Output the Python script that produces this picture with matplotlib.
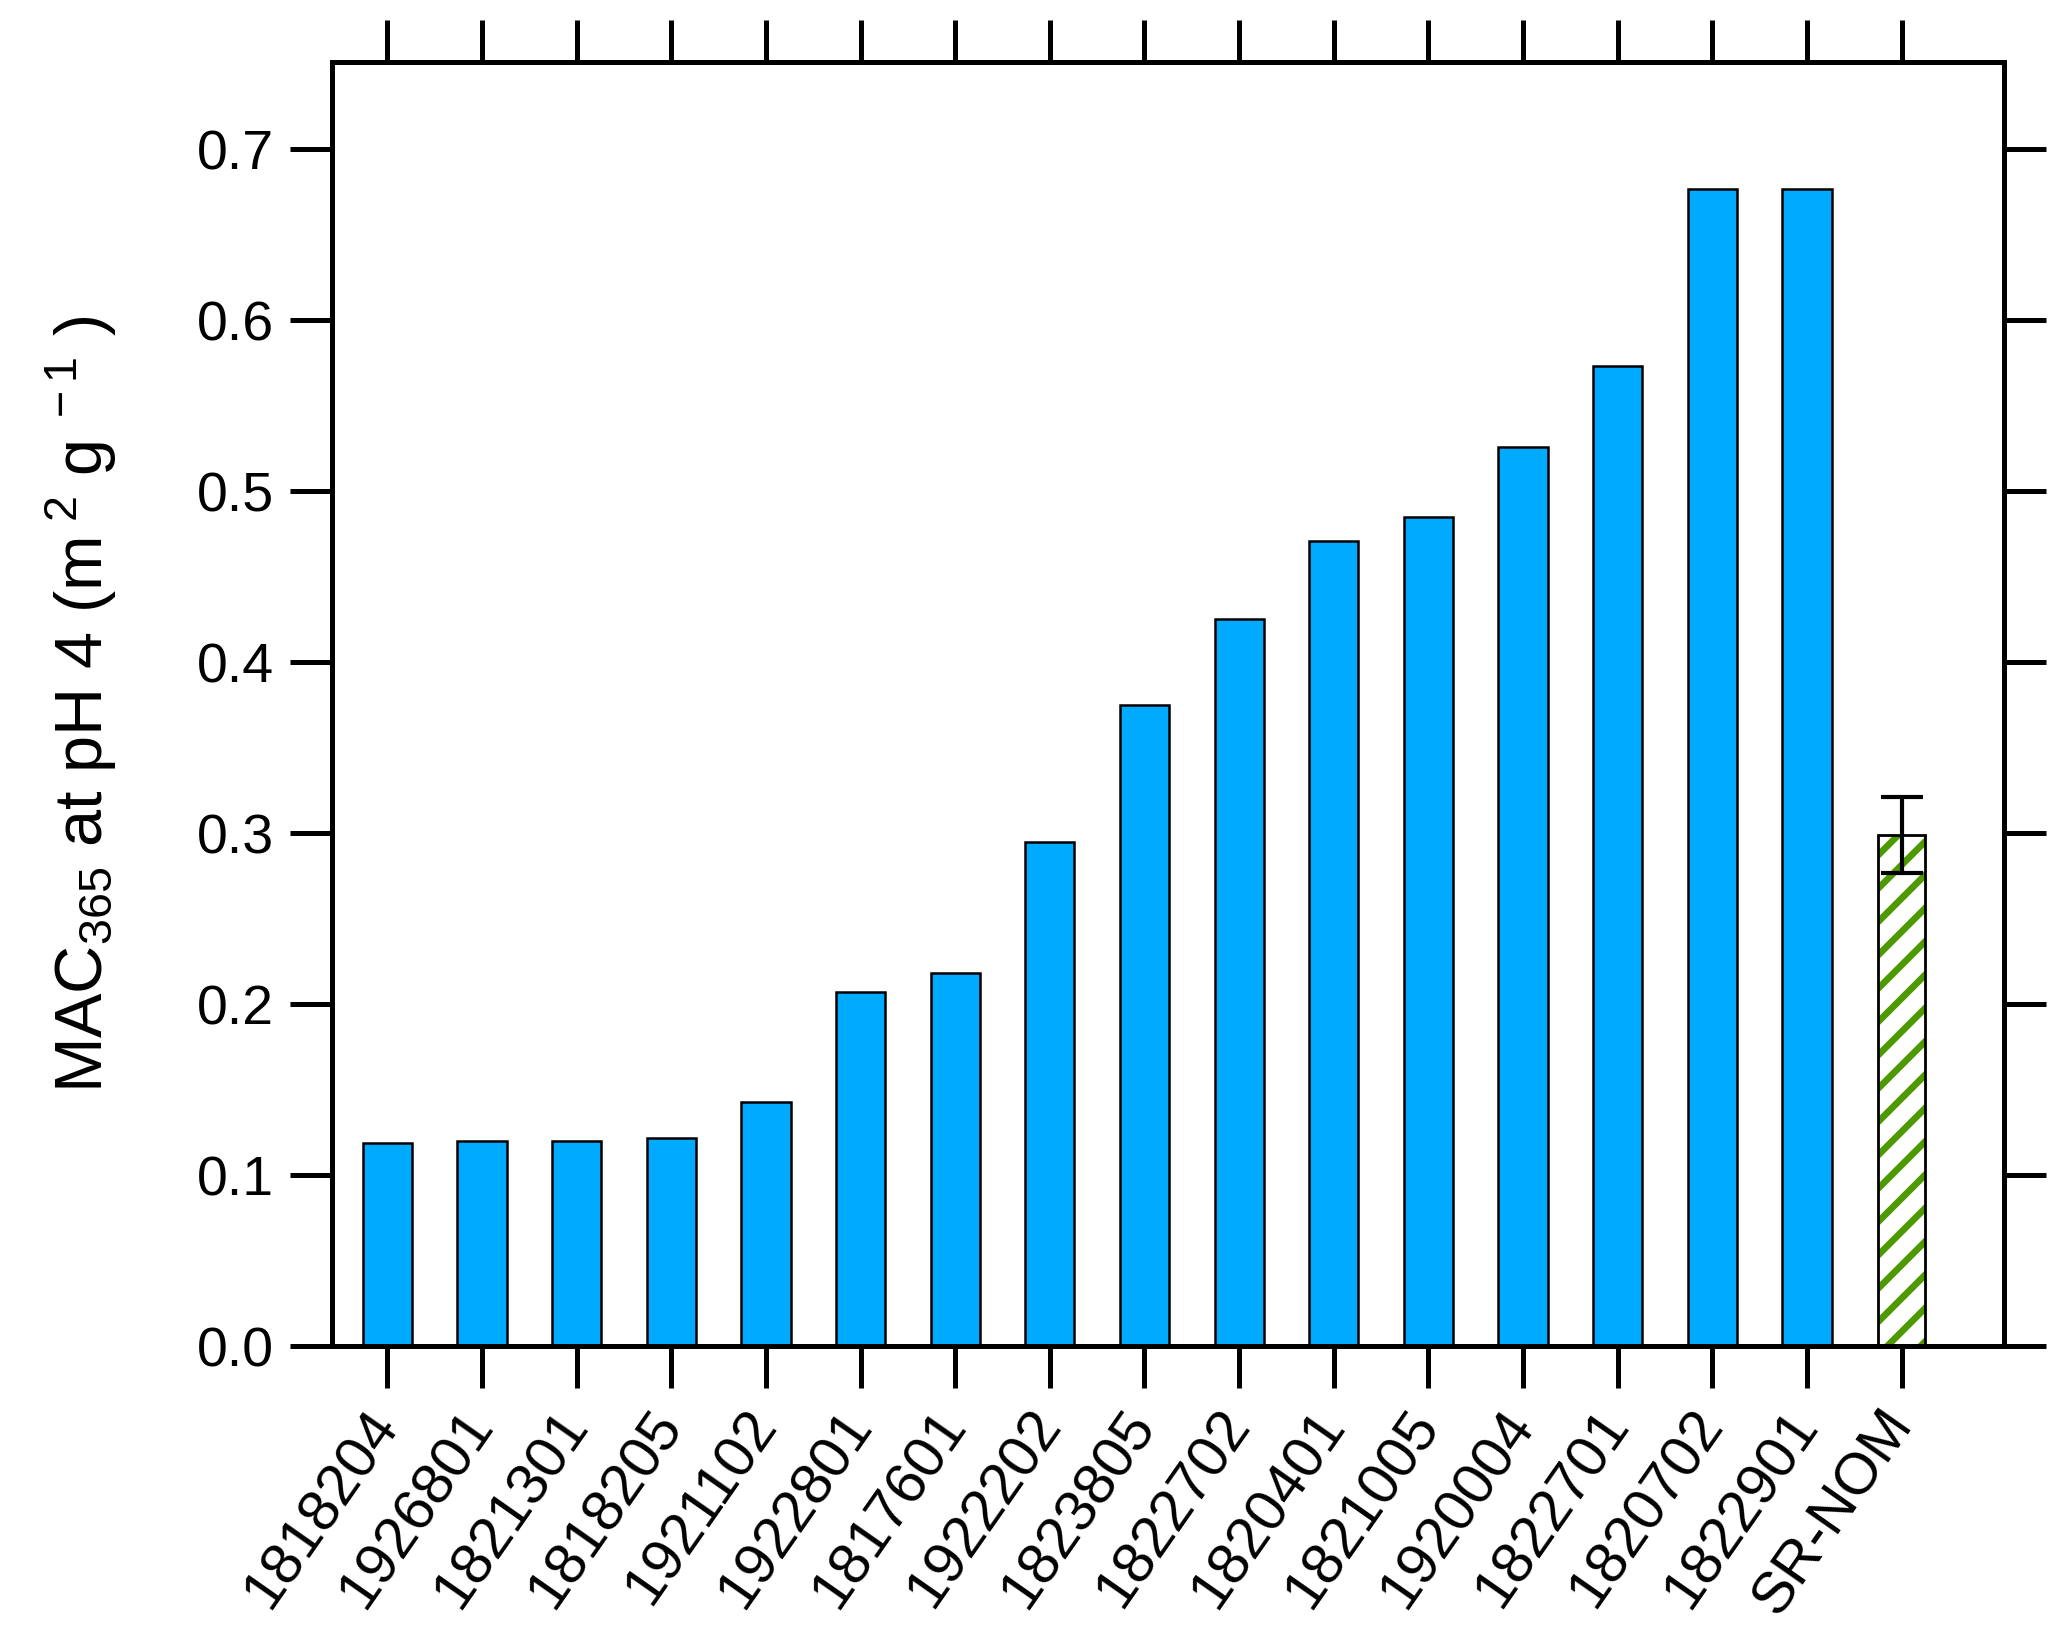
import numpy as np
import matplotlib
matplotlib.use("Agg")
import matplotlib.pyplot as plt

plt.rcParams['font.family'] = ['Liberation Sans', 'DejaVu Sans']
plt.rcParams['mathtext.fontset'] = 'custom'
plt.rcParams['mathtext.rm'] = 'Liberation Sans'
plt.rcParams['mathtext.it'] = 'Liberation Sans'
plt.rcParams['hatch.linewidth'] = 2.4

# samples, sorted by MAC365
samples = ["1818204", "1926801", "1821301", "1818205", "1921102", "1922801",
           "1817601", "1922202", "1823805", "1822702", "1820401", "1821005",
           "1920004", "1822701", "1820702", "1822901"]
mac365 = [0.119, 0.120, 0.120, 0.122, 0.143, 0.207, 0.218, 0.295, 0.375,
          0.425, 0.471, 0.485, 0.526, 0.573, 0.677, 0.677]

# reference standard
ref_label = "SR-NOM"
ref_value = 0.299
ref_err = 0.022

labels = samples + [ref_label]
x = np.arange(len(labels))

fig = plt.figure(figsize=(10.335, 8.175), dpi=200)
ax = fig.add_axes([0.1607, 0.1766, 0.8087, 0.7855])

ax.bar(x[:-1], mac365, width=0.52, color="#00AAFF", edgecolor="black", linewidth=0.9)

# hatched bar for the reference
ax.bar(x[-1], ref_value, width=0.5, color="white", edgecolor="#4C9A00", hatch="//", linewidth=0)
ax.bar(x[-1], ref_value, width=0.5, fill=False, edgecolor="black", linewidth=1.0)
ax.errorbar(x[-1], ref_value, yerr=ref_err, color="black", capsize=7.5, capthick=1.5, elinewidth=1.5)

ax.set_xlim(-0.584, 17.08)
ax.set_ylim(0, 0.751)
ax.set_yticks(np.arange(0, 0.71, 0.1))
ax.set_yticklabels([f"{v:.1f}" for v in np.arange(0, 0.71, 0.1)])
ax.set_xticks(x)
ax.set_xticklabels(labels, rotation=55, ha="right", va="center", rotation_mode="anchor", fontsize=21)

for s in ax.spines.values():
    s.set_linewidth(1.8)
ax.tick_params(axis="both", which="major", direction="out", length=15, width=1.8,
               labelsize=20, top=True, right=True, pad=6)
ax.tick_params(axis="x", pad=10, labelsize=21)

ax.set_ylabel("MAC$_{365}$ at pH 4 (m$^{\\ 2}$ g$^{\\ -1}$ )", fontsize=24, labelpad=28)

fig.savefig("out.png", dpi=200)
